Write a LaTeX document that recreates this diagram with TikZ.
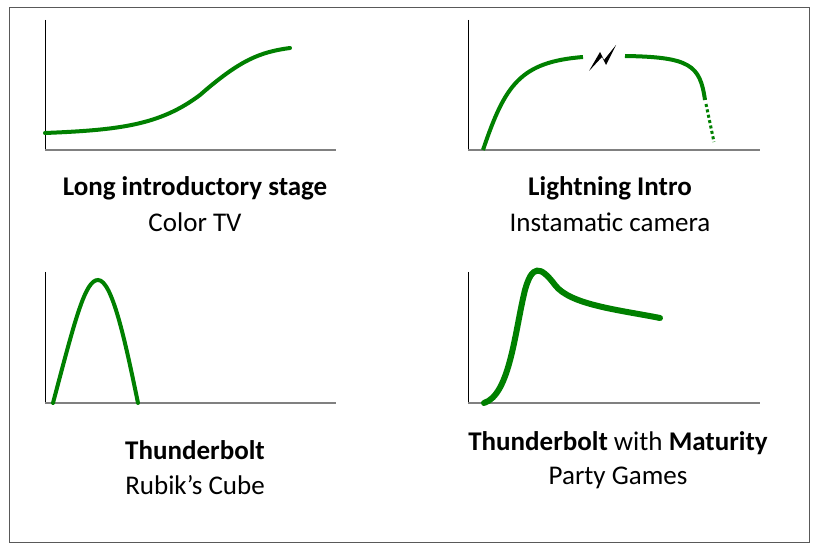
\documentclass[tikz,border=0pt]{standalone}
\usepackage{fontspec}
\setmainfont{Carlito}
\begin{document}
\begin{tikzpicture}[x=1pt,y=-1pt,
  yax/.style={black,line width=1pt},
  xax/.style={gray,line width=1.8pt},
  crv/.style={green!50!black,line width=4pt,line cap=round},
  lbl/.style={font=\fontsize{27}{30}\selectfont,anchor=center}]
\useasboundingbox (0,0) rectangle (815,545);
\draw[gray!70!black,line width=0.8pt] (9,7) rectangle (809,542);
% plot 1
\draw[yax] (45,20) -- (45,150);
\draw[xax] (45,150) -- (336,150);
\draw[crv] (45,133) .. controls (120,130) and (160,125) .. (200,95) .. controls (240,60) and (260,52) .. (290,48);
% plot 2
\draw[yax] (468,20) -- (468,150);
\draw[xax] (468,150) -- (760,150);
\draw[crv,line cap=butt] (483,150) .. controls (505,85) and (520,62) .. (583,57);
\draw[crv,line cap=butt] (625,56) .. controls (690,57) and (700,65) .. (705,100);
\draw[green!50!black,line width=3pt,dash pattern=on 3pt off 2.5pt] (706,104) -- (714,142);
\fill[black] (589,71) -- (600,52) -- (604,60) -- (616,45) -- (606,65) -- (602,57) -- cycle;
% plot 3
\draw[yax] (45,272) -- (45,403);
\draw[xax] (45,403) -- (336,403);
\draw[crv] (53,403) .. controls (75,320) and (85,280) .. (98,280) .. controls (112,280) and (125,340) .. (138,403);
% plot 4
\draw[yax] (468,272) -- (468,403);
\draw[xax] (468,403) -- (760,403);
\draw[crv,line width=6pt] (484,403) .. controls (510,395) and (515,330) .. (525,290) .. controls (532,265) and (540,265) .. (555,285) .. controls (570,305) and (620,310) .. (660,318);
% labels
\node[lbl] (t1) at (195,188) {\textbf{Long introductory stage}};
\node[lbl] (s1) at (195,222) {Color TV};
\node[lbl] (t2) at (610,188) {\textbf{Lightning Intro}};
\node[lbl] (s2) at (610,222) {Instamatic camera};
\node[lbl] (t3) at (195,450) {\textbf{Thunderbolt}};
\node[lbl] (s3) at (195,485) {Rubik’s Cube};
\node[lbl] (t4) at (618,443) {\textbf{Thunderbolt} with \textbf{Maturity}};
\node[lbl] (s4) at (618,478) {Party Games};
\end{tikzpicture}
\end{document}
